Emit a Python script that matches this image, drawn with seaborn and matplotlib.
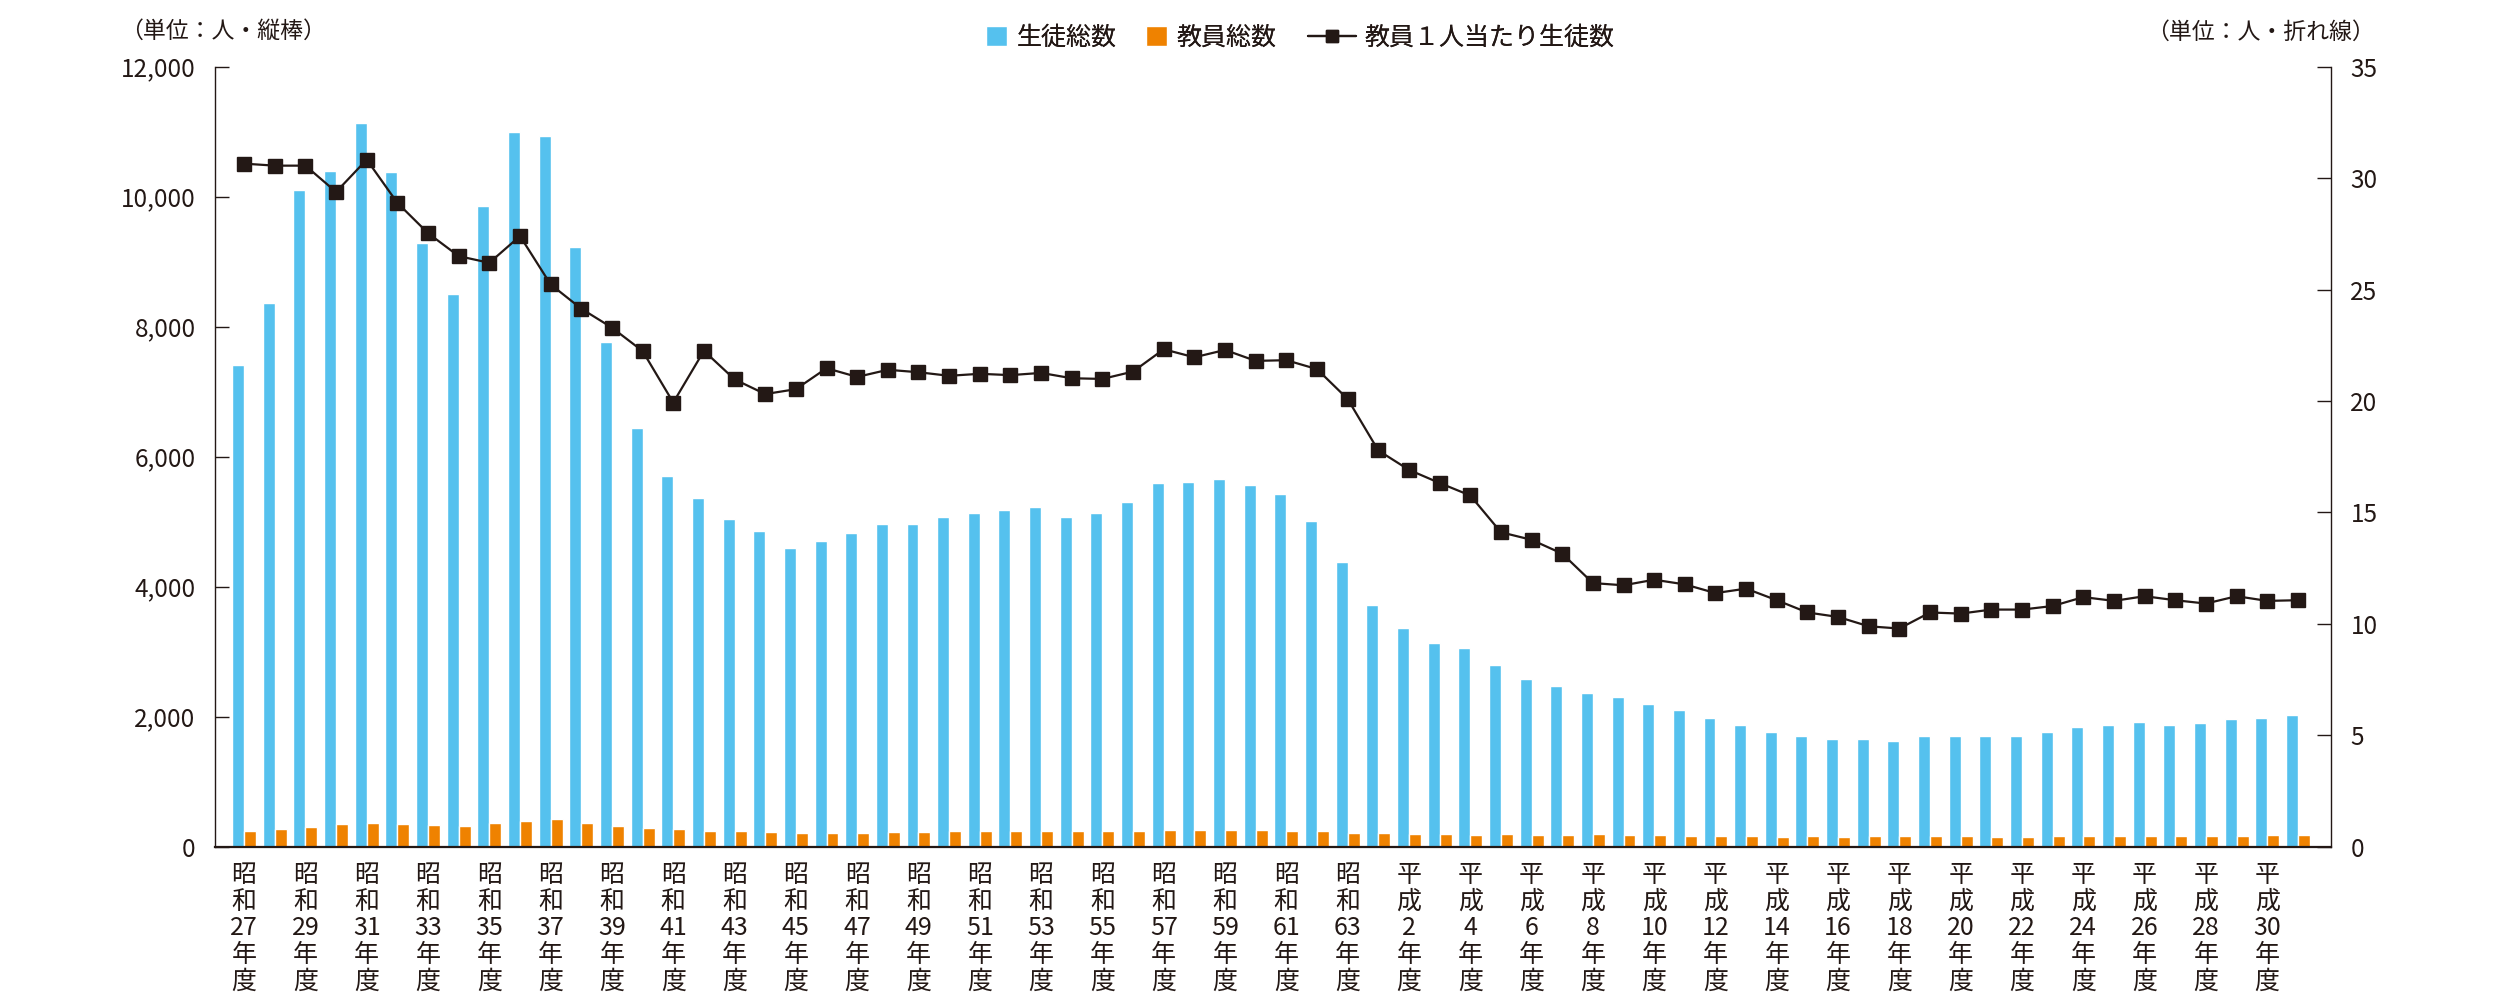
import numpy as np
import pandas as pd
import matplotlib
matplotlib.use('Agg')
import matplotlib.pyplot as plt
import matplotlib.patches as mpatches
from matplotlib.lines import Line2D
import seaborn as sns

############ Datos ############
# 年度 (昭和27年度〜平成31年度)
eras = ['昭和'] * 37 + ['平成'] * 31
era_nums = list(range(27, 64)) + list(range(1, 32))
nendo = [f'{e}{n}' for e, n in zip(eras, era_nums)]

students = [7410, 8370, 10100, 10400, 11130, 10380, 9290, 8510, 9860, 10990,
            10930, 9230, 7760, 6445, 5710, 5370, 5040, 4850, 4600, 4700,
            4820, 4960, 4970, 5070, 5130, 5180, 5220, 5080, 5140, 5310,
            5600, 5610, 5660, 5560, 5430, 5005, 4375, 3725, 3360, 3130,
            3060, 2790, 2585, 2470, 2370, 2300, 2190, 2100, 1980, 1880,
            1760, 1700, 1650, 1650, 1630, 1700, 1700, 1700, 1700, 1760,
            1840, 1880, 1920, 1870, 1900, 1960, 1980, 2030]

teachers = [235, 265, 310, 345, 360, 345, 330, 315, 365, 390,
            420, 370, 325, 285, 280, 240, 240, 220, 215, 210,
            215, 220, 230, 240, 240, 240, 240, 240, 240, 245,
            250, 255, 255, 255, 245, 235, 215, 210, 195, 190,
            185, 195, 185, 185, 195, 185, 180, 170, 165, 160,
            155, 160, 155, 160, 160, 160, 160, 155, 155, 160,
            160, 165, 165, 165, 165, 165, 175, 175]

ratio = [30.65, 30.56, 30.56, 29.38, 30.83, 28.89, 27.53, 26.50, 26.20, 27.40,
         25.23, 24.14, 23.29, 22.24, 19.93, 22.25, 20.97, 20.31, 20.53, 21.47,
         21.08, 21.40, 21.29, 21.13, 21.22, 21.16, 21.26, 21.02, 20.99, 21.32,
         22.32, 21.96, 22.29, 21.80, 21.83, 21.43, 20.09, 17.78, 16.91, 16.32,
         15.76, 14.11, 13.77, 13.15, 11.83, 11.73, 11.98, 11.77, 11.38, 11.58,
         11.06, 10.51, 10.31, 9.89, 9.79, 10.51, 10.46, 10.64, 10.64, 10.80,
         11.20, 11.03, 11.24, 11.06, 10.91, 11.24, 11.03, 11.06]

series_names = ['生徒総数', '教員総数', '教員１人当たり生徒数']
colores = {'生徒総数': '#55C1EE', '教員総数': '#EF8200'}
negro = '#231815'

df = pd.DataFrame({'年度': nendo * 2,
                   '人数': students + teachers,
                   '区分': [series_names[0]] * len(nendo) + [series_names[1]] * len(nendo)})

############ Grafica ############
sns.set_theme(style='white')
plt.rcParams['font.family'] = ['Noto Sans CJK JP', 'DejaVu Sans']
plt.rcParams['text.color'] = negro

fig = plt.figure(figsize=(25, 10), dpi=100)
ax = fig.add_axes([0.086, 0.1533, 0.8464, 0.78])

sns.barplot(data=df, x='年度', y='人数', hue='区分', order=nendo,
            hue_order=series_names[:2], palette=colores, width=0.78,
            saturation=1, legend=False, ax=ax)

ax.set_xlim(-0.95, len(nendo) - 1 + 1.08)
ax.set_ylim(0, 12000)
ax.set_yticks(np.arange(0, 12001, 2000))
ax.set_yticklabels([f'{v:,}' for v in range(0, 12001, 2000)], fontsize=17.5, color=negro)
ax.set_xlabel('')
ax.set_ylabel('')

# etiquetas verticales del eje x (cada dos años)
pos = list(range(0, len(nendo), 2))
etiquetas = []
for i in pos:
    e = eras[i]
    etiquetas.append(f'{e[0]}\n{e[1]}\n{era_nums[i]}\n年\n度')
ax.set_xticks(pos)
ax.set_xticklabels(etiquetas, fontsize=18, color=negro, linespacing=1.03, va='top')
ax.tick_params(axis='x', length=0, pad=11)
ax.tick_params(axis='y', direction='in', length=10, width=1.0, color=negro, pad=14)

ax.spines['top'].set_visible(False)
ax.spines['right'].set_visible(False)
ax.spines['left'].set_color(negro)
ax.spines['left'].set_linewidth(1.0)
ax.spines['bottom'].set_color(negro)
ax.spines['bottom'].set_linewidth(1.6)

ax2 = ax.twinx()
ax2.plot(range(len(ratio)), ratio, color=negro, lw=1.6, marker='s', ms=10,
         markerfacecolor=negro, markeredgecolor=negro)
ax2.set_ylim(0, 35)
ax2.set_yticks(np.arange(0, 36, 5))
ax2.set_yticklabels([str(v) for v in range(0, 36, 5)], fontsize=17.5, color=negro)
ax2.tick_params(axis='y', direction='in', length=10, width=1.0, color=negro, pad=14)
ax2.grid(False)
for s in ['top', 'left', 'bottom']:
    ax2.spines[s].set_visible(False)
ax2.spines['right'].set_color(negro)
ax2.spines['right'].set_linewidth(1.0)

# unidades
fig.text(0.048, 0.969, '（単位：人・縦棒）', fontsize=16.5, color=negro, ha='left', va='center')
fig.text(0.950, 0.968, '（単位：人・折れ線）', fontsize=16.5, color=negro, ha='right', va='center')

# leyenda: una entrada por bloque para fijar las posiciones
ley_x = [0.3944, 0.4584, 0.5232]
ley_handles = [mpatches.Patch(facecolor=colores[series_names[0]]),
               mpatches.Patch(facecolor=colores[series_names[1]]),
               Line2D([], [], color=negro, lw=1.6, marker='s', ms=9)]
ley_len = [0.85, 0.85, 1.9]
for hx, h, nombre, hl in zip(ley_x, ley_handles, series_names, ley_len):
    lg = fig.legend([h], [nombre], loc='center left', bbox_to_anchor=(hx, 0.962),
                    frameon=False, fontsize=18, handlelength=hl, handleheight=0.85,
                    handletextpad=0.36, borderpad=0, borderaxespad=0)
    fig.add_artist(lg)

plt.savefig('out.png', dpi=100)
